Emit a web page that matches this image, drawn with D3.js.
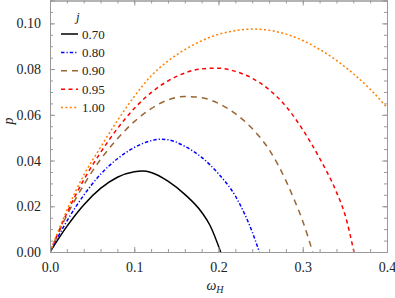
<!DOCTYPE html>
<html><head><meta charset="utf-8">
<script src="https://cdn.jsdelivr.net/npm/d3@7"></script>
<style>body{margin:0;background:#fff} svg{display:block}</style>
</head><body><svg id="c" width="395" height="298"></svg>
<script>
// ---- data ----
const jLabels = ["0.70", "0.80", "0.90", "0.95", "1.00"];
const xTicks = [0.0, 0.1, 0.2, 0.3, 0.4];
const yTicks = [0.00, 0.02, 0.04, 0.06, 0.08, 0.10];

const omega070 = [0, 0.02, 0.04, 0.06, 0.08, 0.10, 0.11, 0.12, 0.14, 0.16, 0.18, 0.19, 0.2026];
const p070     = [0, 0.0112, 0.0206, 0.0278, 0.0327, 0.0351, 0.0354, 0.0348, 0.0310, 0.0252, 0.0174, 0.0116, 0];

const omega080 = [0, 0.02, 0.04, 0.06, 0.08, 0.10, 0.12, 0.13, 0.14, 0.16, 0.18, 0.20, 0.22, 0.23, 0.24, 0.2485];
const p080     = [0, 0.0135, 0.0248, 0.0340, 0.0408, 0.0457, 0.0487, 0.0493, 0.0491, 0.0462, 0.0414, 0.0342, 0.0245, 0.0174, 0.0088, 0];

const omega090 = [0, 0.02, 0.04, 0.06, 0.08, 0.10, 0.12, 0.14, 0.16, 0.18, 0.20, 0.22, 0.24, 0.26, 0.28, 0.29, 0.30, 0.3118];
const p090     = [0, 0.0160, 0.0293, 0.0405, 0.0495, 0.0570, 0.0627, 0.0665, 0.0680, 0.0675, 0.0650, 0.0605, 0.0540, 0.0448, 0.0312, 0.0228, 0.0135, 0];

const omega095 = [0, 0.02, 0.04, 0.06, 0.08, 0.10, 0.12, 0.14, 0.16, 0.18, 0.20, 0.22, 0.24, 0.26, 0.28, 0.30, 0.32, 0.34, 0.35, 0.3608];
const p095     = [0, 0.0170, 0.0315, 0.0435, 0.0540, 0.0628, 0.0697, 0.0748, 0.0783, 0.0801, 0.0804, 0.0790, 0.0760, 0.0710, 0.0637, 0.0535, 0.0410, 0.0262, 0.0165, 0];

const omega100 = [0, 0.02, 0.04, 0.06, 0.08, 0.10, 0.12, 0.14, 0.16, 0.18, 0.20, 0.22, 0.24, 0.26, 0.28, 0.30, 0.32, 0.34, 0.36, 0.38, 0.40];
const p100     = [0, 0.0182, 0.0336, 0.0458, 0.0575, 0.0680, 0.0770, 0.0835, 0.0885, 0.0924, 0.0952, 0.0968, 0.0975, 0.0970, 0.0953, 0.0925, 0.0886, 0.0838, 0.0780, 0.0712, 0.0632];

const seriesColors = ["#000000", "#0000ff", "#996633", "#ff0000", "#ff8000"];
const seriesDash = ["none", "3.5,2,1.2,2", "6,5", "4,3.5", "2,2.4"];

// ---- chart ----
const W = 395, H = 298;
const m = {l: 50, r: 8, t: 0.5, b: 46};
const x = d3.scaleLinear().domain([0, 0.4]).range([m.l, W - m.r]);
const y = d3.scaleLinear().domain([0, 0.11]).range([H - m.b, m.t]);
const svg = d3.select("#c");
const FONT = '"Liberation Serif"';

svg.append("defs").append("clipPath").attr("id", "clip")
  .append("rect").attr("x", m.l).attr("y", m.t).attr("width", W - m.r - m.l).attr("height", H - m.b - m.t);

const series = [
  {om: omega070, p: p070}, {om: omega080, p: p080}, {om: omega090, p: p090},
  {om: omega095, p: p095}, {om: omega100, p: p100}
];
const line = d3.line().x(d => x(d[0])).y(d => y(d[1])).curve(d3.curveMonotoneX);
const g = svg.append("g").attr("clip-path", "url(#clip)");
series.forEach((s, i) => {
  g.append("path").datum(s.om.map((o, k) => [o, s.p[k]]))
    .attr("d", line).attr("fill", "none")
    .attr("stroke", seriesColors[i]).attr("stroke-width", 1.5)
    .attr("stroke-dasharray", seriesDash[i] === "none" ? null : seriesDash[i]);
});

// frame
const frameColor = "#9a9a9a";
function styleAxis(sel) {
  sel.attr("font-family", FONT);
  sel.select(".domain").attr("stroke", frameColor);
  sel.selectAll(".tick line").attr("stroke", frameColor);
  sel.selectAll(".tick text").attr("font-family", FONT).attr("font-size", 14).attr("fill", "#222");
}
const xMinor = d3.range(0, 0.4001, 0.02);
const yMinor = d3.range(0, 0.1101, 0.005);
// bottom
svg.append("g").attr("transform", `translate(0,${y(0)})`)
  .call(d3.axisBottom(x).tickValues(xMinor).tickSize(-3).tickFormat("")).call(styleAxis);
svg.append("g").attr("transform", `translate(0,${y(0)})`)
  .call(d3.axisBottom(x).tickValues(xTicks).tickSize(-5).tickPadding(10).tickFormat(d3.format(".1f"))).call(styleAxis);
// top
svg.append("g").attr("transform", `translate(0,${m.t})`)
  .call(d3.axisTop(x).tickValues(xMinor).tickSize(-3).tickFormat("")).call(styleAxis);
svg.append("g").attr("transform", `translate(0,${m.t})`)
  .call(d3.axisTop(x).tickValues(xTicks).tickSize(-5).tickFormat("")).call(styleAxis);
// left
svg.append("g").attr("transform", `translate(${m.l},0)`)
  .call(d3.axisLeft(y).tickValues(yMinor).tickSize(-3).tickFormat("")).call(styleAxis);
svg.append("g").attr("transform", `translate(${m.l},0)`)
  .call(d3.axisLeft(y).tickValues(yTicks).tickSize(-5).tickPadding(9).tickFormat(d3.format(".2f"))).call(styleAxis);
// right
svg.append("g").attr("transform", `translate(${W - m.r},0)`)
  .call(d3.axisRight(y).tickValues(yMinor).tickSize(-3).tickFormat("")).call(styleAxis);
svg.append("g").attr("transform", `translate(${W - m.r},0)`)
  .call(d3.axisRight(y).tickValues(yTicks).tickSize(-5).tickFormat("")).call(styleAxis);

// axis labels
const xl = svg.append("text").attr("x", 215).attr("y", 290).attr("text-anchor", "middle")
  .attr("font-family", FONT).attr("font-size", 14).attr("fill", "#222");
xl.append("tspan").attr("font-style", "italic").text("ω");
xl.append("tspan").attr("font-style", "italic").attr("font-size", 10).attr("dy", 3).text("H");
svg.append("text").attr("transform", "translate(13,121) rotate(-90)").attr("text-anchor", "middle")
  .attr("font-family", FONT).attr("font-size", 14).attr("font-style", "italic").attr("fill", "#222").text("p");

// legend
svg.append("text").attr("x", 76).attr("y", 21).attr("font-family", FONT).attr("font-size", 13)
  .attr("font-style", "italic").attr("fill", "#222").text("j");
jLabels.forEach((lab, i) => {
  const yy = 34 + i * 18.4;
  svg.append("line").attr("x1", 61).attr("x2", 78).attr("y1", yy).attr("y2", yy)
    .attr("stroke", seriesColors[i]).attr("stroke-width", 1.5)
    .attr("stroke-dasharray", seriesDash[i] === "none" ? null : seriesDash[i]);
  svg.append("text").attr("x", 82).attr("y", yy).attr("dy", "0.35em").attr("font-family", FONT)
    .attr("font-size", 13).attr("fill", "#222").text(lab);
});
</script></body></html>
